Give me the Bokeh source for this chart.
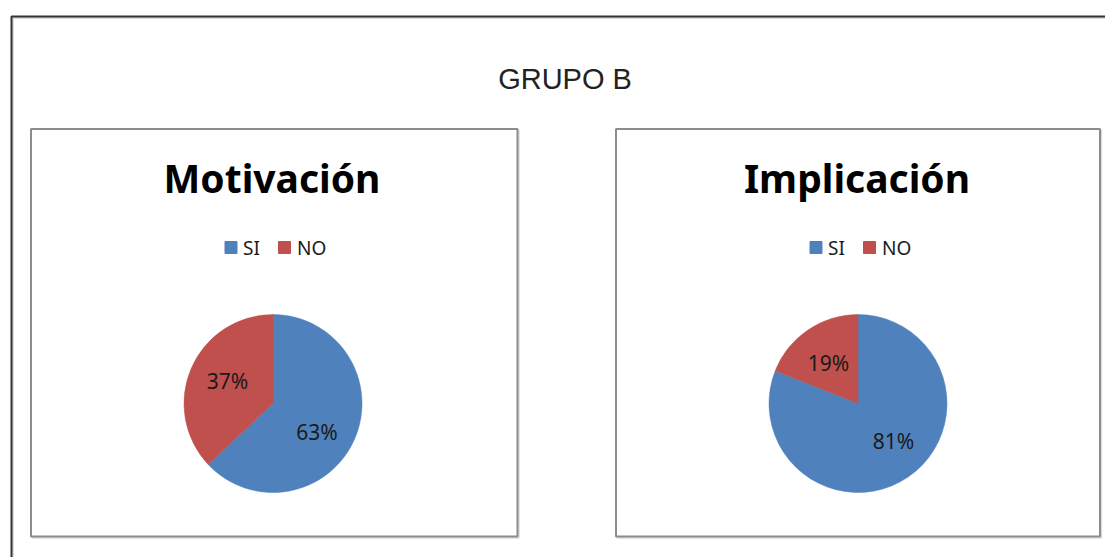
import math
from bokeh.plotting import figure
from bokeh.models import Range1d, ColumnDataSource
from bokeh.embed import file_html
from bokeh.resources import INLINE
from bokeh.core.properties import value

# ---- data ----
main_title = "GRUPO B"
chart_titles = ["Motivación", "Implicación"]
categories = ["SI", "NO"]
motivacion = [63, 37]
implicacion = [81, 19]
series = [motivacion, implicacion]
colors = ["#4F81BD", "#C0504D"]

# ---- layout (page pixel helpers) ----
W, H = 1105, 557
OX, OY = 0, 0
def fx(X):
    return X - OX
def fy(Y):
    return H - (Y - OY)

# small per-label nudges (page px: right, down) to mimic Excel label placement
label_nudge = [[(-3, 8), (1.5, -1.7)], [(6.7, -4.8), (-0.7, 1.8)]]

p = figure(width=W, height=H, x_range=Range1d(0, W), y_range=Range1d(0, H),
           output_backend="svg", toolbar_location=None, min_border=0,
           x_axis_location=None, y_axis_location=None,
           outline_line_color=None, background_fill_color="white",
           border_fill_color="white")
p.grid.visible = False

# outer frame (with soft shadow)
p.quad(left=fx(12.5), right=W + 60, top=fy(17.5), bottom=-60,
       fill_color=None, line_color="#d0d0d0", line_width=1.5)
p.quad(left=fx(11), right=W + 50, top=fy(16), bottom=-50,
       fill_color=None, line_color="#333333", line_width=2)

# main title
p.text(x=[fx(564.5)], y=[fy(78)], text=[main_title],
       text_font=value("Liberation Sans"), text_font_size="29px",
       text_color="#222222", text_align="center", text_baseline="middle")

panel_left = [30, 615]
panel_right = [517, 1099.5]
R = 89
for i in range(2):
    x0 = panel_left[i]
    xr = fx(panel_right[i])
    # panel box with shadow
    p.quad(left=fx(x0 + 0.5) + 1.5, right=xr + 1.5, top=fy(128.5) - 1.5, bottom=fy(536) - 1.5,
           fill_color=None, line_color="#dddddd", line_width=1.5)
    p.quad(left=fx(x0 + 0.5), right=xr, top=fy(128.5), bottom=fy(536),
           fill_color="white", line_color="#8c8c8c", line_width=2)

    # chart title
    p.text(x=[fx(x0 + 241.5)], y=[fy(177)], text=[chart_titles[i]],
           text_font=value("Noto Sans"), text_font_style="bold", text_font_size="39px",
           text_color="#000000", text_align="center", text_baseline="middle")

    # legend
    sq_x = [fx(x0 + 200.5), fx(x0 + 254)]
    lab_x = [fx(x0 + 212.5), fx(x0 + 266.5)]
    p.rect(x=sq_x, y=[fy(247)] * 2, width=12, height=12,
           fill_color=colors, line_color=colors)
    p.text(x=lab_x, y=[fy(247)] * 2, text=categories,
           text_font=value("Noto Sans"), text_font_size="19px",
           text_color="#1a1a1a", text_align="left", text_baseline="middle")

    # pie
    vals = series[i]
    total = float(sum(vals))
    cx, cy = fx(x0 + 242.5), fy(403)
    starts, ends, lx, ly, labels = [], [], [], [], []
    cum = 0.0
    for k, v in enumerate(vals):
        a0 = math.pi / 2 - 2 * math.pi * cum / total
        a1 = math.pi / 2 - 2 * math.pi * (cum + v) / total
        am = (a0 + a1) / 2
        starts.append(a0)
        ends.append(a1)
        ndx, ndy = label_nudge[i][k]
        lx.append(cx + 0.575 * R * math.cos(am) + ndx)
        ly.append(cy + 0.575 * R * math.sin(am) - ndy)
        labels.append(f"{v}%")
        cum += v
    src = ColumnDataSource(dict(start=starts, end=ends, color=colors, cat=categories))
    p.wedge(x=cx, y=cy, radius=R, start_angle="start", end_angle="end",
            direction="clock", fill_color="color", line_color="color",
            line_width=0.5, source=src)
    p.text(x=lx, y=ly, text=labels, text_font=value("Noto Sans"),
           text_font_size="21px", text_color="#1a1a1a",
           text_align="center", text_baseline="middle")

open("out.html", "w").write(file_html(p, INLINE))
